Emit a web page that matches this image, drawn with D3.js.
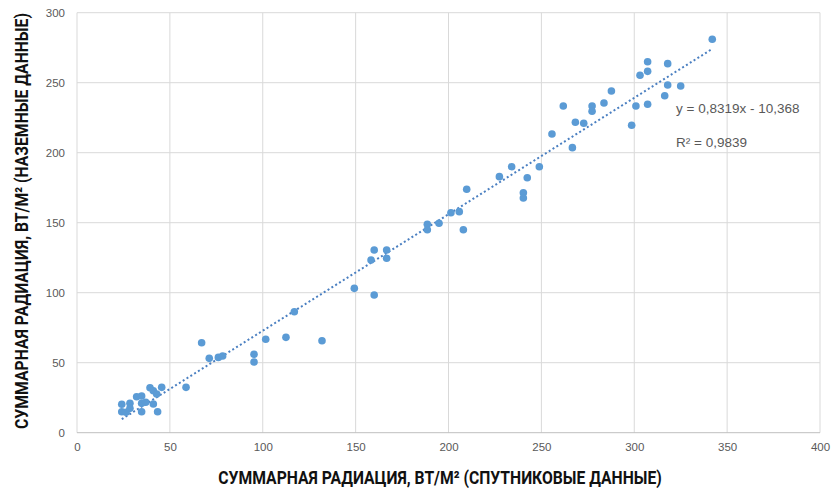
<!DOCTYPE html>
<html>
<head>
<meta charset="utf-8">
<script src="https://cdn.jsdelivr.net/npm/d3@7"></script>
<style>
  body { margin: 0; background: #fff; }
  .tick text { font-family: "Liberation Sans", Arial, sans-serif; font-size: 11.5px; fill: #595959; }
  .axis-title { font-family: Roboto, "Liberation Sans", sans-serif; font-weight: 700; fill: #111; }
  .eq { font-family: "Liberation Sans", Arial, sans-serif; font-size: 13.5px; fill: #595959; }
</style>
</head>
<body>
<svg width="831" height="488"></svg>
<script>
// спутниковые данные (ось X)
var satellite = [24.1, 24.1, 26.4, 28.5, 28.5, 32.1, 34.8, 34.8, 34.8, 37, 39.3, 41.1, 41.1, 42.9, 43.4, 45.6,
    58.7, 67.1, 71.2, 76.1, 78.4, 95.3, 95.3, 101.6, 112.5, 117, 131.9, 149.3, 160, 158.3, 160, 166.7, 166.7,
    188.6, 188.6, 194.9, 201.3, 205.8, 208, 209.8, 227.4, 234, 240.3, 240.3, 242.4, 248.9, 255.7, 261.8,
    266.7, 268.3, 272.8, 277.3, 277.3, 283.7, 287.7, 298.6, 300.9, 303.1, 307.2, 307.2, 307.2, 316.4,
    318, 318, 325, 342];
// наземные данные (ось Y)
var ground = [20.3, 15, 14.6, 21, 17.4, 25.7, 26.2, 15, 21, 21.7, 32.1, 30, 20.5, 27.6, 15, 32.4,
    32.4, 64.3, 53.1, 53.8, 54.8, 56, 50.5, 66.7, 68.1, 86.4, 65.7, 103.1, 98.4, 123.4, 130.5, 130.5, 124.6,
    148.9, 145, 149.6, 157.1, 157.9, 145, 173.9, 182.9, 190, 171.4, 167.6, 182.1, 190, 213.4, 233.4,
    203.6, 221.7, 221, 233.4, 229.6, 235.5, 244.1, 219.6, 233.4, 255.3, 258.1, 265, 234.6, 240.7,
    263.6, 248.4, 247.6, 281];

var xTicks = [0, 50, 100, 150, 200, 250, 300, 350, 400];
var yTicks = [0, 50, 100, 150, 200, 250, 300];

var slope = 0.8319, intercept = -10.368;
var eqLabel = "y = 0,8319x - 10,368";
var r2Label = "R² = 0,9839";
var xTitle = "СУММАРНАЯ РАДИАЦИЯ, ВТ/М² (СПУТНИКОВЫЕ ДАННЫЕ)";
var yTitle = "СУММАРНАЯ РАДИАЦИЯ, ВТ/М² (НАЗЕМНЫЕ ДАННЫЕ)";

var svg = d3.select("svg");

var x = d3.scaleLinear().domain([0, 400]).range([77, 820]);
var y = d3.scaleLinear().domain([0, 300]).range([432.7, 12.7]);

// сетка
var grid = svg.append("g");
grid.selectAll("line.v")
    .data(xTicks)
    .enter().append("line")
    .attr("x1", d => x(d)).attr("x2", d => x(d))
    .attr("y1", y(0)).attr("y2", y(300))
    .attr("stroke", "#d9d9d9").attr("stroke-width", 1);
grid.selectAll("line.h")
    .data(yTicks)
    .enter().append("line")
    .attr("x1", x(0)).attr("x2", x(400))
    .attr("y1", d => y(d)).attr("y2", d => y(d))
    .attr("stroke", d => d === 0 ? "#bfbfbf" : "#d9d9d9").attr("stroke-width", 1);

// оси (только подписи)
var xAxis = svg.append("g")
    .attr("transform", "translate(0," + y(0) + ")")
    .call(d3.axisBottom(x).tickValues(xTicks).tickSize(0).tickPadding(10));
xAxis.select(".domain").remove();

var yAxis = svg.append("g")
    .attr("transform", "translate(" + x(0) + ",0)")
    .call(d3.axisLeft(y).tickValues(yTicks).tickSize(0).tickPadding(12));
yAxis.select(".domain").remove();

// линия тренда
var xr = d3.extent(satellite);
svg.append("path")
    .datum(xr)
    .attr("fill", "none")
    .attr("stroke", "#4a7fc1")
    .attr("stroke-width", 2)
    .attr("stroke-dasharray", "2,2.5")
    .attr("d", d3.line().x(d => x(d)).y(d => y(slope * d + intercept)));

// точки
svg.append("g")
    .selectAll("circle")
    .data(satellite)
    .enter().append("circle")
    .attr("cx", d => x(d))
    .attr("cy", (d, i) => y(ground[i]))
    .attr("r", 3.8)
    .attr("fill", "#5b9bd5");

// уравнение
svg.append("text").attr("class", "eq")
    .attr("x", 676).attr("y", 113)
    .text(eqLabel);
svg.append("text").attr("class", "eq")
    .attr("x", 676).attr("y", 146.5)
    .text(r2Label);

// подписи осей (сжаты по ширине как узкий шрифт)
function condensedTitle(txt, cx, cy, angle, width) {
    var t = svg.append("text").attr("class", "axis-title")
        .attr("text-anchor", "middle")
        .attr("font-size", 18)
        .text(txt);
    var sx = width / t.node().getComputedTextLength();
    t.attr("transform", "translate(" + cx + "," + cy + ") rotate(" + angle + ") scale(" + sx + ",1)");
}
condensedTitle(xTitle, 440, 484, 0, 444);
condensedTitle(yTitle, 28, 221, -90, 416);
</script>
</body>
</html>
